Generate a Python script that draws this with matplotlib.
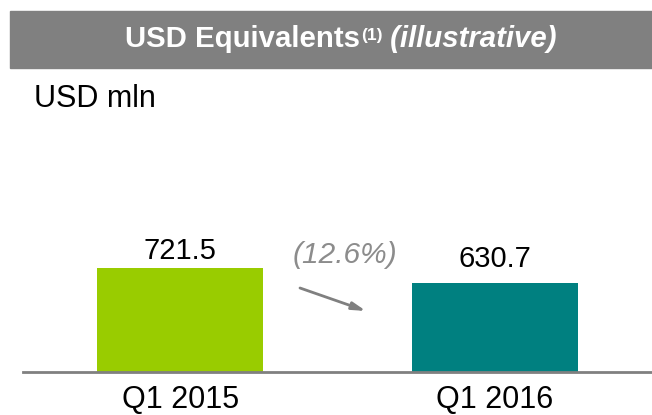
import matplotlib
matplotlib.use("Agg")
import matplotlib.pyplot as plt
from matplotlib.patches import Rectangle

categories = ["Q1 2015", "Q1 2016"]
values = [721.5, 630.7]
value_labels = ["721.5", "630.7"]
bar_colors = ["#99CC00", "#008080"]
change_label = "(12.6%)"
title_main = "USD Equivalents"
title_sup = "(1)"
title_ital = "(illustrative)"
unit_label = "USD mln"

W, H = 652, 415
plt.rcParams['font.family'] = ['Liberation Sans', 'DejaVu Sans']
fig = plt.figure(figsize=(W / 100, H / 100), dpi=100)

def fx(px):
    return px / W

def fy(py):
    return 1 - py / H

# header band
fig.patches.append(Rectangle((fx(10), fy(68)), 1 - fx(10), fy(11) - fy(68),
                             transform=fig.transFigure, color="#808080", zorder=0))

# axes
ax = fig.add_axes([fx(23), fy(372), 1 - fx(23), fy(68) - fy(372)])
ax.bar(range(len(categories)), values, width=0.527, color=bar_colors, zorder=2)
ax.set_xlim(-0.5, 1.5)
ax.set_ylim(90, 1936)
ax.set_xticks(range(len(categories)))
ax.set_xticklabels(categories, fontsize=22)
ax.tick_params(axis='x', length=0, pad=9)
ax.set_yticks([])
for s in ["left", "right", "top"]:
    ax.spines[s].set_visible(False)
ax.spines["bottom"].set_color("#808080")
ax.spines["bottom"].set_linewidth(2.0)
ax.spines["bottom"].set_zorder(3)
ax.patch.set_alpha(0)

offsets = [6.5, 11.5]
for i, (v, lab) in enumerate(zip(values, value_labels)):
    ax.annotate(lab, (i, v), xytext=(0, offsets[i]), textcoords="offset points",
                ha="center", va="baseline", fontsize=21, color="black")

# change label and arrow
fig.text(fx(345), fy(263), change_label, ha="center", va="baseline", fontsize=21.5,
         color="#8C8C8C", style="italic")
ax.annotate("", xy=(fx(366), fy(311)), xycoords=fig.transFigure,
            xytext=(fx(300), fy(288)), textcoords=fig.transFigure,
            arrowprops=dict(arrowstyle="-|>,head_length=0.8,head_width=0.22",
                            color="#808080", lw=2.0, shrinkA=0, shrinkB=0))

fig.text(fx(34), fy(107), unit_label, ha="left", va="baseline", fontsize=22, color="black")

# title pieces
fig.canvas.draw()
r = fig.canvas.get_renderer()
tb = fy(47)
t1 = fig.text(0, tb, title_main, ha="left", va="baseline", fontsize=21.2,
              fontweight="bold", color="white")
t2 = fig.text(0, fy(40), title_sup, ha="left", va="baseline", fontsize=12.5,
              fontweight="bold", color="white")
t3 = fig.text(0, tb, " " + title_ital, ha="left", va="baseline", fontsize=21.2,
              fontweight="bold", style="italic", color="white")
w1 = t1.get_window_extent(r).width
w2 = t2.get_window_extent(r).width
w3 = t3.get_window_extent(r).width
total = w1 + w2 + w3 + 1
start = 341 - total / 2
t1.set_x(fx(start))
t2.set_x(fx(start + w1 + 1))
t3.set_x(fx(start + w1 + w2 + 1))

fig.savefig("out.png", dpi=100)
